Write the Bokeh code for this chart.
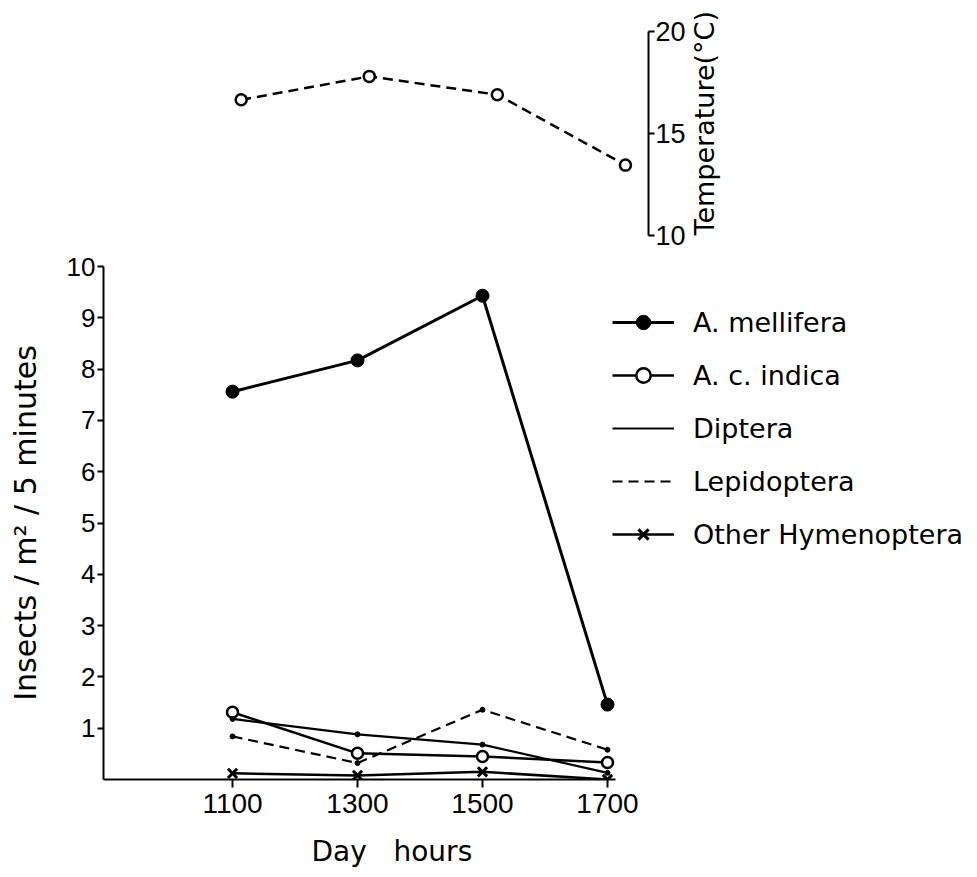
import math
from bokeh.plotting import figure
from bokeh.models import ColumnDataSource, Range1d, FixedTicker, Legend, LegendItem, Title
from bokeh.layouts import column
from bokeh.embed import file_html
from bokeh.resources import INLINE

# ---- data ----
hours = [1100, 1300, 1500, 1700]
temperature = [16.65, 17.8, 16.9, 13.45]
a_mellifera = [7.56, 8.17, 9.43, 1.46]
a_c_indica = [1.31, 0.51, 0.45, 0.33]
diptera = [1.18, 0.88, 0.68, 0.13]
lepidoptera = [0.84, 0.32, 1.36, 0.58]
other_hymenoptera = [0.12, 0.08, 0.15, 0.0]

x_ticks = [1100, 1300, 1500, 1700]
y_ticks = [1, 2, 3, 4, 5, 6, 7, 8, 9, 10]
temp_ticks = [10, 15, 20]

NUM_FONT = "Liberation Sans"
TXT_FONT = "DejaVu Sans"
INK = "black"


def no_align(p):
    try:
        p.frame_align = False
    except Exception:
        pass


# ---- temperature panel (top) ----
top = figure(frame_width=545, frame_height=204,
             x_range=Range1d(885, 1736), y_range=Range1d(10, 20),
             x_axis_type=None, y_axis_location="right",
             output_backend="svg", toolbar_location=None,
             min_border_left=103, min_border_right=110, min_border_top=31, min_border_bottom=16)
no_align(top)
top.outline_line_color = None
top.grid.visible = False
tsrc = ColumnDataSource(dict(hours=hours, temp=temperature))
top.line("hours", "temp", source=tsrc, line_color=INK, line_width=2.5, line_dash="10 6")
top.scatter("hours", "temp", source=tsrc, marker="circle", size=11,
            fill_color="white", line_color=INK, line_width=2.5)
ya = top.yaxis[0]
ya.ticker = FixedTicker(ticks=temp_ticks)
ya.bounds = (10, 20)
ya.axis_line_color = INK
ya.axis_line_width = 2
ya.major_tick_in = 0
ya.major_tick_out = 6
ya.major_tick_line_color = INK
ya.major_tick_line_width = 2
ya.minor_tick_line_color = None
ya.major_label_text_font = NUM_FONT
ya.major_label_text_font_size = "27px"
ya.major_label_text_color = INK
ya.major_label_standoff = 1
ya.axis_label = "Temperature(°C)"
ya.axis_label_text_font = TXT_FONT
ya.axis_label_text_font_size = "27px"
ya.axis_label_text_font_style = "normal"
ya.axis_label_text_color = INK
ya.axis_label_standoff = 16
try:
    ya.axis_label_align = "start"
    ya.axis_label_orientation = math.pi / 2
except Exception:
    ya.axis_label_orientation = "parallel"

# ---- insects panel (bottom) ----
bot = figure(frame_width=868, frame_height=513,
             x_range=Range1d(893.6, 2282.4), y_range=Range1d(0, 10),
             output_backend="svg", toolbar_location=None,
             min_border_left=103, min_border_right=2, min_border_top=15, min_border_bottom=97)
no_align(bot)
bot.outline_line_color = None
bot.grid.visible = False

src = ColumnDataSource(dict(hours=hours, mell=a_mellifera, indica=a_c_indica, dip=diptera,
                            lep=lepidoptera, oth=other_hymenoptera))
r1l = bot.line("hours", "mell", source=src, line_color=INK, line_width=3)
r1s = bot.scatter("hours", "mell", source=src, marker="circle", size=13, fill_color=INK, line_color=INK)
r2l = bot.line("hours", "indica", source=src, line_color=INK, line_width=2.5)
r2s = bot.scatter("hours", "indica", source=src, marker="circle", size=11, fill_color="white",
                  line_color=INK, line_width=2.5)
r3l = bot.line("hours", "dip", source=src, line_color=INK, line_width=2.2)
r3s = bot.scatter("hours", "dip", source=src, marker="circle", size=5, fill_color=INK, line_color=INK)
r4l = bot.line("hours", "lep", source=src, line_color=INK, line_width=2.2, line_dash="10 6")
r4s = bot.scatter("hours", "lep", source=src, marker="circle", size=5, fill_color=INK, line_color=INK)
r5l = bot.line("hours", "oth", source=src, line_color=INK, line_width=2.5)
r5s = bot.scatter("hours", "oth", source=src, marker="x", size=13, line_color=INK, line_width=3)

xa = bot.xaxis[0]
xa.ticker = FixedTicker(ticks=x_ticks)
xa.bounds = (893.6, 1712)
xa.axis_line_color = INK
xa.axis_line_width = 2
xa.major_tick_in = 0
xa.major_tick_out = 8
xa.major_tick_line_color = INK
xa.major_tick_line_width = 2
xa.minor_tick_line_color = None
xa.major_label_text_font = NUM_FONT
xa.major_label_text_font_size = "28px"
xa.major_label_text_color = INK
xa.major_label_standoff = 6

# x-axis title, placed below the axis and shifted to sit under the tick span
xtitle = Title(text="Day\u00a0\u00a0\u00a0hours", align="left", offset=208,
               text_font=TXT_FONT, text_font_size="28px", text_font_style="normal",
               text_color=INK, standoff=34)
bot.add_layout(xtitle, "below")

yb = bot.yaxis[0]
yb.ticker = FixedTicker(ticks=y_ticks)
yb.bounds = (0, 10)
yb.axis_line_color = INK
yb.axis_line_width = 2
yb.major_tick_in = 0
yb.major_tick_out = 6
yb.major_tick_line_color = INK
yb.major_tick_line_width = 2
yb.minor_tick_line_color = None
yb.major_label_text_font = NUM_FONT
yb.major_label_text_font_size = "26px"
yb.major_label_text_color = INK
yb.major_label_standoff = 2
yb.axis_label = "Insects / m² / 5 minutes"
yb.axis_label_text_font = TXT_FONT
yb.axis_label_text_font_size = "30px"
yb.axis_label_text_font_style = "normal"
yb.axis_label_text_color = INK
yb.axis_label_standoff = 21

legend = Legend(items=[
    LegendItem(label="A. mellifera", renderers=[r1l, r1s]),
    LegendItem(label="A. c. indica", renderers=[r2l, r2s]),
    LegendItem(label="Diptera", renderers=[r3l]),
    LegendItem(label="Lepidoptera", renderers=[r4l]),
    LegendItem(label="Other Hymenoptera", renderers=[r5l, r5s]),
], location=(509, 227))
legend.label_text_font = TXT_FONT
legend.label_text_font_size = "27px"
legend.label_text_color = INK
legend.glyph_width = 62
legend.glyph_height = 36
legend.label_height = 36
legend.spacing = 17
legend.padding = 0
legend.margin = 0
legend.label_standoff = 19
legend.border_line_color = None
legend.background_fill_alpha = 0
bot.add_layout(legend)

layout = column(top, bot, spacing=0)
open("out.html", "w").write(file_html(layout, INLINE))
